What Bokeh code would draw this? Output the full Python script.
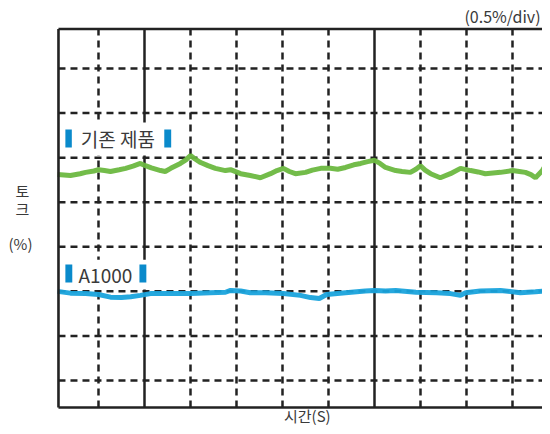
from bokeh.plotting import figure
from bokeh.models import Range1d, Label, BoxAnnotation
from bokeh.embed import file_html
from bokeh.resources import INLINE

# ---- data (time in divisions, torque in divisions; 0.5 %/div) ----
old_time = [-0.89, -0.61, -0.40, -0.28, -0.10, 0.0, 0.13, 0.26, 0.45, 0.59, 0.75, 0.91,
            1.02, 1.15, 1.35, 1.45, 1.57, 1.78, 1.90, 2.0, 2.10, 2.22, 2.38, 2.54,
            2.76, 2.87, 3.09, 3.30, 3.52, 3.74, 3.88, 4.02, 4.15, 4.28, 4.50, 4.65,
            4.83, 5.04, 5.20, 5.37, 5.55, 5.70, 5.85, 6.0, 6.12, 6.24, 6.46, 6.60,
            6.78, 6.90, 7.0, 7.10, 7.22, 7.43, 7.65, 7.87, 8.09, 8.25, 8.41, 8.74,
            9.0, 9.15, 9.28, 9.40, 9.50, 9.65, 9.78, 9.83]
old_torque = [4.62, 4.60, 4.64, 4.67, 4.70, 4.73, 4.71, 4.69, 4.73, 4.76, 4.81, 4.87,
              4.82, 4.77, 4.71, 4.69, 4.76, 4.87, 4.95, 5.05, 4.97, 4.89, 4.82, 4.76,
              4.71, 4.73, 4.64, 4.60, 4.55, 4.64, 4.71, 4.76, 4.69, 4.64, 4.67, 4.72,
              4.76, 4.76, 4.74, 4.78, 4.84, 4.87, 4.91, 4.94, 4.87, 4.78, 4.71, 4.69,
              4.67, 4.74, 4.82, 4.72, 4.64, 4.55, 4.64, 4.76, 4.71, 4.68, 4.64, 4.67,
              4.71, 4.69, 4.67, 4.62, 4.55, 4.71, 4.94, 4.98]

a1000_time = [-0.89, -0.61, -0.28, 0.0, 0.26, 0.50, 0.70, 0.91, 1.13, 1.57, 2.0, 2.43,
              2.76, 2.87, 3.09, 3.30, 3.63, 4.02, 4.39, 4.61, 4.80, 4.96, 5.37, 5.80,
              6.0, 6.24, 6.46, 6.90, 7.35, 7.65, 7.87, 7.98, 8.30, 8.74, 9.17, 9.50, 9.83]
a1000_torque = [2.0, 1.96, 1.95, 1.93, 1.87, 1.86, 1.88, 1.91, 1.95, 1.95, 1.95, 1.97,
                1.98, 2.02, 2.01, 1.97, 1.97, 1.95, 1.91, 1.86, 1.84, 1.93, 1.97, 2.01,
                2.02, 2.01, 2.02, 1.98, 1.97, 1.95, 1.91, 1.97, 2.01, 2.02, 1.97, 1.99, 2.02]

dashed_x = [0, 2, 3, 4, 5, 7, 8, 9]
solid_x = [1, 6]
grid_y = [0, 1, 2, 3, 4, 5, 6, 7]

GREEN = "#6cb840"
BLUE = "#19a3dc"
BAR = "#0a8acb"
INK = "#222222"
TXT = "#3a3a3a"
FONT = "Noto Sans CJK KR"

# plot-area limits (in division units)
X0, Y0, Y1 = -0.870, -0.606, 7.887
XA, XB, YA, YB = -2.1304, 9.6522, -1.032, 8.526

p = figure(width=542, height=426,
           x_range=Range1d(XA, XB), y_range=Range1d(YA, YB),
           output_backend="svg", toolbar_location=None,
           min_border_left=0, min_border_right=0, min_border_top=0, min_border_bottom=0)
p.axis.visible = False
p.grid.visible = False
p.outline_line_color = None
p.background_fill_color = "white"

# oscilloscope graticule
p.segment(x0=dashed_x, y0=[Y0] * len(dashed_x), x1=dashed_x, y1=[Y1] * len(dashed_x),
          line_color=INK, line_width=2.5, line_dash="7 5")
p.segment(x0=[X0] * len(grid_y), y0=grid_y, x1=[XB + 0.5] * len(grid_y), y1=grid_y,
          line_color=INK, line_width=2.5, line_dash="7 5")
p.segment(x0=solid_x, y0=[Y0] * len(solid_x), x1=solid_x, y1=[Y1] * len(solid_x),
          line_color=INK, line_width=2.5)

p.line(old_time, old_torque, line_color=GREEN, line_width=5, line_alpha=0.95)
p.line(a1000_time, a1000_torque, line_color=BLUE, line_width=5, line_alpha=0.95)

# frame borders (left, top, bottom)
p.segment(x0=[X0, X0, X0], y0=[Y0, Y1, Y0], x1=[X0, XB + 0.5, XB + 0.5], y1=[Y1, Y1, Y0],
          line_color=INK, line_width=2.6)

# series tags
tagbg = dict(fill_color="white", fill_alpha=1, line_color=None, level="overlay")
bar = dict(fill_color=BAR, fill_alpha=1, line_color=None, level="overlay")
p.add_layout(BoxAnnotation(left=-0.76, right=1.78, bottom=5.05, top=5.79, **tagbg))
p.add_layout(BoxAnnotation(left=-0.72, right=-0.58, bottom=5.23, top=5.63, **bar))
p.add_layout(BoxAnnotation(left=1.43, right=1.58, bottom=5.23, top=5.63, **bar))
p.add_layout(Label(x=0.42, y=5.43, text="기존 제품", text_align="center",
                   text_baseline="middle", text_font=FONT, level="overlay",
                   text_font_size="19px", text_color=TXT))

p.add_layout(BoxAnnotation(left=-0.76, right=1.17, bottom=2.04, top=2.71, **tagbg))
p.add_layout(BoxAnnotation(left=-0.72, right=-0.57, bottom=2.20, top=2.60, **bar))
p.add_layout(BoxAnnotation(left=0.89, right=1.04, bottom=2.20, top=2.60, **bar))
p.add_layout(Label(x=0.15, y=2.38, text="A1000", text_align="center",
                   text_baseline="middle", text_font=FONT, level="overlay",
                   text_font_size="19px", text_color=TXT))

# outer texts
outer = dict(text_baseline="middle", text_font=FONT, text_font_size="15px",
             text_color=TXT, level="overlay")
p.add_layout(Label(x=9.61, y=8.17, text="(0.5%/div)", text_align="right",
                   text_baseline="middle", text_font=FONT, text_font_size="16px",
                   text_color=TXT, level="overlay"))
p.add_layout(Label(x=4.54, y=-0.785, text="시간(S)", text_align="center", **outer))
p.add_layout(Label(x=-1.652, y=4.263, text="토", text_align="center", **outer))
p.add_layout(Label(x=-1.652, y=3.859, text="크", text_align="center", **outer))
p.add_layout(Label(x=-1.696, y=3.074, text="(%)", text_align="center", **outer))

open("out.html", "w").write(file_html(p, INLINE))
